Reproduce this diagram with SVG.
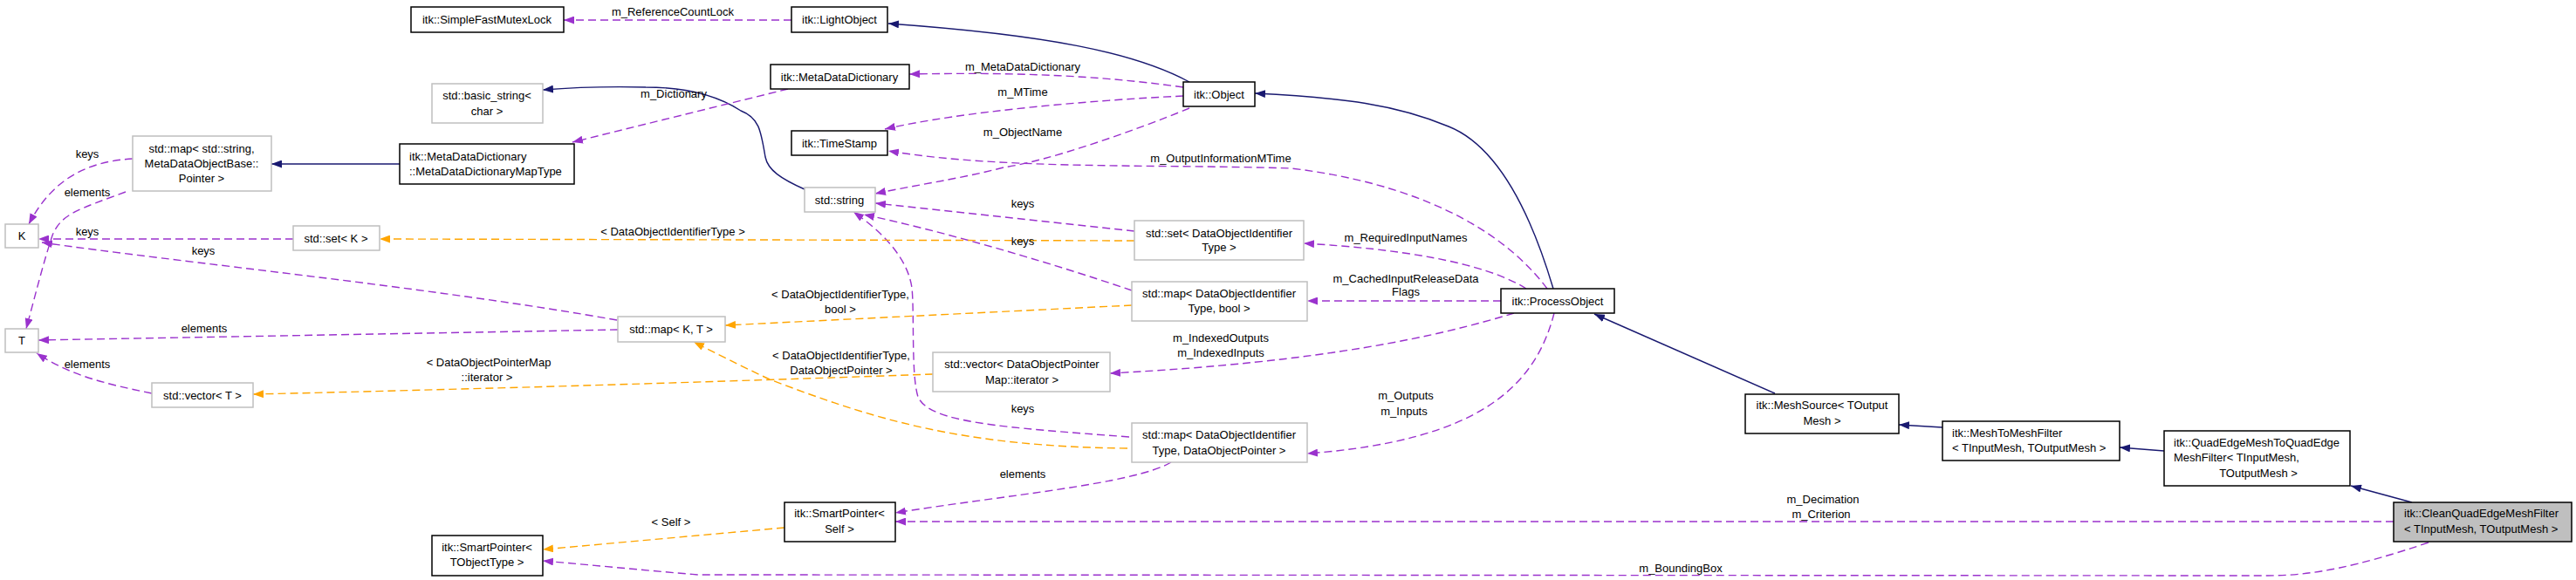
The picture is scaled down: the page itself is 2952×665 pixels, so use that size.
<svg xmlns="http://www.w3.org/2000/svg" width="2952" height="665" viewBox="0 0 2952 665">
<defs>
<marker id="aP" viewBox="0 0 12 9" refX="12" refY="4.5" markerWidth="12" markerHeight="9" markerUnits="userSpaceOnUse" orient="auto"><path d="M0,0 L12,4.5 L0,9 z" fill="#9a32cd"/></marker>
<marker id="aO" viewBox="0 0 12 9" refX="12" refY="4.5" markerWidth="12" markerHeight="9" markerUnits="userSpaceOnUse" orient="auto"><path d="M0,0 L12,4.5 L0,9 z" fill="#ffa500"/></marker>
<marker id="aN" viewBox="0 0 12 9" refX="12" refY="4.5" markerWidth="12" markerHeight="9" markerUnits="userSpaceOnUse" orient="auto"><path d="M0,0 L12,4.5 L0,9 z" fill="#191970"/></marker>
</defs>
<style>
text{font-family:"Liberation Sans",Arial,sans-serif;font-size:13px;fill:#000}
.c{text-anchor:middle}
.l{text-anchor:start}
.nb{fill:#fff;stroke:#000;stroke-width:1.5}
.ng{fill:#fff;stroke:#bfbfbf;stroke-width:1.5}
.nh{fill:#bfbfbf;stroke:#000;stroke-width:1.5}
.p{fill:none;stroke:#9a32cd;stroke-width:1.4;stroke-dasharray:9,5;marker-end:url(#aP)}
.o{fill:none;stroke:#ffa500;stroke-width:1.4;stroke-dasharray:9,5;marker-end:url(#aO)}
.s{fill:none;stroke:#191970;stroke-width:1.4;marker-end:url(#aN)}
</style>
<rect width="2952" height="665" fill="#fff"/>
<g id="edges">
<path class="s" d="M1363,94 C1300,60 1200,40 1018,27"/>
<path class="s" d="M922,217 C895,205 880,195 877,180 C872,150 870,135 849,127 C820,108 780,100 740,100 C700,99 660,100 622,103"/>
<path class="s" d="M458,188 L311,188"/>
<path class="s" d="M1780,331 C1750,230 1710,165 1660,145 C1600,120 1540,112 1438,107"/>
<path class="s" d="M2034,451 L1827,360"/>
<path class="s" d="M2226,490 L2176,487"/>
<path class="s" d="M2480,517 L2429,513"/>
<path class="s" d="M2764,576 L2694,557"/>
<path class="p" d="M907,23 L646,23"/>
<path class="p" d="M1356,100 C1250,85 1150,83 1042,85"/>
<path class="p" d="M1356,110 C1250,115 1100,128 1014,148"/>
<path class="p" d="M1363,124 C1300,150 1200,185 1150,192 C1100,205 1050,212 1003,222"/>
<path class="p" d="M1773,331 C1720,260 1620,210 1480,193 C1330,188 1150,195 1018,173"/>
<path class="p" d="M903,102 L656,163"/>
<path class="p" d="M152,182 C100,185 60,205 33,257"/>
<path class="p" d="M144,220 C90,240 70,245 60,270 C50,300 40,340 30,377"/>
<path class="p" d="M336,274 L44,274"/>
<path class="p" d="M707,367 C500,330 200,300 48,278"/>
<path class="p" d="M708,378 L44,390"/>
<path class="p" d="M174,451 C120,440 80,430 42,405"/>
<path class="p" d="M1300,265 L1003,233"/>
<path class="p" d="M1297,333 C1200,300 1080,265 990,246"/>
<path class="p" d="M1294,501 C1150,490 1065,485 1052,455 C1044,430 1048,360 1045,330 C1040,295 1010,265 978,243"/>
<path class="p" d="M1749,331 C1700,300 1600,285 1494,279"/>
<path class="p" d="M1720,345 L1498,345"/>
<path class="p" d="M1735,359 C1650,385 1520,415 1272,428"/>
<path class="p" d="M1781,359 C1760,440 1700,505 1498,520"/>
<path class="p" d="M1342,530 C1300,555 1150,568 1026,588"/>
<path class="p" d="M2743,598 L1026,598"/>
<path class="p" d="M2783,622 C2700,650 2650,660 2598,660 L800,659 C740,654 680,648 622,643"/>
<path class="o" d="M1300,276 L435,274"/>
<path class="o" d="M1297,350 L831,373"/>
<path class="o" d="M1292,514 C1100,512 1000,480 882,435 C850,420 820,405 795,392"/>
<path class="o" d="M1069,429 C900,435 600,445 290,452"/>
<path class="o" d="M899,605 L622,630"/>
<g class="labels">
<text class="c" x="771" y="17.5">m_ReferenceCountLock</text>
<text class="c" x="1172" y="80.5">m_MetaDataDictionary</text>
<text class="c" x="1172" y="109.5">m_MTime</text>
<text class="c" x="1172" y="155.5">m_ObjectName</text>
<text class="c" x="1399" y="185.5">m_OutputInformationMTime</text>
<text class="c" x="772" y="111.5">m_Dictionary</text>
<text class="c" x="100" y="180.5">keys</text>
<text class="c" x="100" y="224.5">elements</text>
<text class="c" x="100" y="269.5">keys</text>
<text class="c" x="233" y="291.5">keys</text>
<text class="c" x="234" y="380.5">elements</text>
<text class="c" x="100" y="421.5">elements</text>
<text class="c" x="1172" y="237.5">keys</text>
<text class="c" x="1172" y="280.5">keys</text>
<text class="c" x="1172" y="472.5">keys</text>
<text class="c" x="1611" y="276.5">m_RequiredInputNames</text>
<text class="c" x="1611" y="323.5">m_CachedInputReleaseData</text>
<text class="c" x="1611" y="338.5">Flags</text>
<text class="c" x="1399" y="391.5">m_IndexedOutputs</text>
<text class="c" x="1399" y="408.5">m_IndexedInputs</text>
<text class="c" x="1611" y="457.5">m_Outputs</text>
<text class="c" x="1609" y="475.5">m_Inputs</text>
<text class="c" x="1172" y="547.5">elements</text>
<text class="c" x="2089" y="576.5">m_Decimation</text>
<text class="c" x="2087" y="593.5">m_Criterion</text>
<text class="c" x="1926" y="655.5">m_BoundingBox</text>
<text class="c" x="771" y="269.5">&lt; DataObjectIdentifierType &gt;</text>
<text class="c" x="963" y="341.5">&lt; DataObjectIdentifierType,</text>
<text class="c" x="963" y="358.5">bool &gt;</text>
<text class="c" x="964" y="411.5">&lt; DataObjectIdentifierType,</text>
<text class="c" x="964" y="428.5">DataObjectPointer &gt;</text>
<text class="c" x="560" y="419.5">&lt; DataObjectPointerMap</text>
<text class="c" x="558" y="436.5">::iterator &gt;</text>
<text class="c" x="769" y="602.5">&lt; Self &gt;</text>
</g>
</g>
<g id="n_sfml"><rect class="nb" x="471" y="8" width="175" height="29"/><text class="c" x="558" y="27">itk::SimpleFastMutexLock</text></g>
<g id="n_light"><rect class="nb" x="907" y="8" width="110" height="29"/><text class="c" x="962" y="27">itk::LightObject</text></g>
<g id="n_mdd"><rect class="nb" x="883" y="74" width="159" height="28"/><text class="c" x="962" y="92.5">itk::MetaDataDictionary</text></g>
<g id="n_bstr"><rect class="ng" x="495" y="96" width="127" height="45"/><text class="c" x="558" y="113.5">std::basic_string&lt;</text><text class="c" x="558" y="131.5">char &gt;</text></g>
<g id="n_ts"><rect class="nb" x="907" y="150" width="110" height="28"/><text class="c" x="962" y="168.5">itk::TimeStamp</text></g>
<g id="n_obj"><rect class="nb" x="1356" y="94" width="82" height="28"/><text class="c" x="1397" y="112.5">itk::Object</text></g>
<g id="n_mapstr"><rect class="ng" x="152" y="156" width="159" height="63"/><text class="c" x="231" y="174.5">std::map&lt; std::string,</text><text class="c" x="231" y="191.5">MetaDataObjectBase::</text><text class="c" x="231" y="208.5">Pointer &gt;</text></g>
<g id="n_maptype"><rect class="nb" x="458" y="165" width="200" height="46"/><text class="l" x="469" y="183.5">itk::MetaDataDictionary</text><text class="l" x="469" y="200.5">::MetaDataDictionaryMapType</text></g>
<g id="n_str"><rect class="ng" x="922" y="215" width="81" height="28"/><text class="c" x="962" y="233.5">std::string</text></g>
<g id="n_setdoit"><rect class="ng" x="1300" y="253" width="194" height="45"/><text class="c" x="1397" y="271.5">std::set&lt; DataObjectIdentifier</text><text class="c" x="1397" y="288">Type &gt;</text></g>
<g id="n_K"><rect class="ng" x="6" y="257" width="38" height="27"/><text class="c" x="25" y="275">K</text></g>
<g id="n_setK"><rect class="ng" x="336" y="259" width="99" height="28"/><text class="c" x="385" y="277.5">std::set&lt; K &gt;</text></g>
<g id="n_mapdoitbool"><rect class="ng" x="1297" y="323" width="201" height="45"/><text class="c" x="1397" y="340.5">std::map&lt; DataObjectIdentifier</text><text class="c" x="1397" y="357.5">Type, bool &gt;</text></g>
<g id="n_po"><rect class="nb" x="1720" y="331" width="130" height="28"/><text class="c" x="1785" y="349.5">itk::ProcessObject</text></g>
<g id="n_mapKT"><rect class="ng" x="708" y="363" width="123" height="29"/><text class="c" x="769" y="382">std::map&lt; K, T &gt;</text></g>
<g id="n_T"><rect class="ng" x="6" y="377" width="38" height="27"/><text class="c" x="25" y="395">T</text></g>
<g id="n_vecdopm"><rect class="ng" x="1069" y="404" width="203" height="45"/><text class="c" x="1171" y="421.5">std::vector&lt; DataObjectPointer</text><text class="c" x="1171" y="439.5">Map::iterator &gt;</text></g>
<g id="n_vecT"><rect class="ng" x="174" y="439" width="116" height="28"/><text class="c" x="232" y="457.5">std::vector&lt; T &gt;</text></g>
<g id="n_ms"><rect class="nb" x="2000" y="452" width="176" height="45"/><text class="c" x="2088" y="468.5">itk::MeshSource&lt; TOutput</text><text class="c" x="2088" y="486.5">Mesh &gt;</text></g>
<g id="n_m2m"><rect class="nb" x="2226" y="483" width="203" height="45"/><text class="l" x="2237" y="500.5">itk::MeshToMeshFilter</text><text class="l" x="2237" y="517.5">&lt; TInputMesh, TOutputMesh &gt;</text></g>
<g id="n_mapdop"><rect class="ng" x="1297" y="485" width="201" height="45"/><text class="c" x="1397" y="503">std::map&lt; DataObjectIdentifier</text><text class="c" x="1397" y="520.5">Type, DataObjectPointer &gt;</text></g>
<g id="n_qem"><rect class="nb" x="2480" y="494" width="213" height="63"/><text class="l" x="2491" y="511.5">itk::QuadEdgeMeshToQuadEdge</text><text class="l" x="2491" y="528.5">MeshFilter&lt; TInputMesh,</text><text class="c" x="2588" y="546.5">TOutputMesh &gt;</text></g>
<g id="n_spself"><rect class="nb" x="899" y="576" width="127" height="45"/><text class="c" x="962" y="592.5">itk::SmartPointer&lt;</text><text class="c" x="962" y="610.5">Self &gt;</text></g>
<g id="n_clean"><rect class="nh" x="2743" y="576" width="204" height="45"/><text class="l" x="2755" y="592.5">itk::CleanQuadEdgeMeshFilter</text><text class="l" x="2755" y="610.5">&lt; TInputMesh, TOutputMesh &gt;</text></g>
<g id="n_spobj"><rect class="nb" x="495" y="614" width="127" height="46"/><text class="c" x="558" y="632">itk::SmartPointer&lt;</text><text class="c" x="558" y="649">TObjectType &gt;</text></g>
</svg>
